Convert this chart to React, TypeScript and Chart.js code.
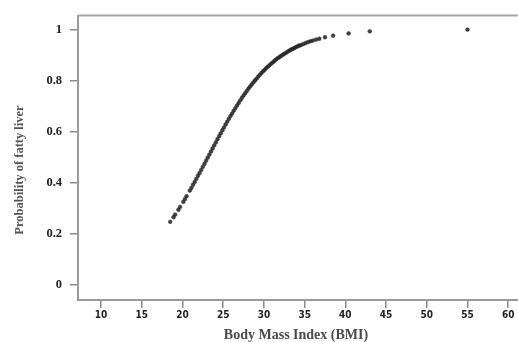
import React, { useEffect, useRef } from "react";
import { Chart, registerables } from "chart.js";

Chart.register(...registerables);

const bmi: number[] = [
  18.5, 18.9, 19.1, 19.5, 19.7, 20.1, 20.3, 20.5, 20.9, 21.1, 21.3, 21.5, 21.7, 21.9,
  22.1, 22.3, 22.5, 22.7, 22.9, 23.1, 23.3, 23.5, 23.7, 23.9, 24.1, 24.3, 24.5, 24.7,
  24.9, 25.1, 25.3, 25.5, 25.7, 25.9, 26.1, 26.3, 26.5, 26.7, 26.9, 27.1, 27.3, 27.5,
  27.7, 27.9, 28.1, 28.3, 28.5, 28.7, 28.9, 29.1, 29.3, 29.5, 29.7, 29.9, 30.1, 30.3,
  30.5, 30.7, 30.9, 31.1, 31.3, 31.5, 31.7, 31.9, 32.1, 32.3, 32.5, 32.7, 32.9, 33.1,
  33.3, 33.5, 33.7, 33.9, 34.1, 34.3, 34.5, 34.8, 35.1, 35.4, 35.7, 36.0, 36.4, 36.8,
  37.5, 38.5, 40.4, 43.0, 55.0,
];

const prob: number[] = [
  0.248, 0.266, 0.276, 0.295, 0.306, 0.326, 0.337, 0.348, 0.37, 0.381, 0.393, 0.404, 0.416, 0.428,
  0.439, 0.451, 0.463, 0.475, 0.487, 0.499, 0.511, 0.523, 0.535, 0.547, 0.559, 0.571, 0.583, 0.594,
  0.606, 0.617, 0.629, 0.64, 0.651, 0.662, 0.672, 0.683, 0.693, 0.703, 0.713, 0.723, 0.733, 0.742,
  0.751, 0.76, 0.769, 0.777, 0.785, 0.793, 0.801, 0.808, 0.816, 0.823, 0.83, 0.837, 0.843, 0.85,
  0.855, 0.861, 0.867, 0.872, 0.878, 0.883, 0.888, 0.892, 0.897, 0.901, 0.905, 0.909, 0.913, 0.917,
  0.921, 0.924, 0.927, 0.931, 0.934, 0.937, 0.939, 0.943, 0.947, 0.951, 0.954, 0.957, 0.961, 0.964,
  0.97, 0.976, 0.985, 0.993, 1.0,
];

const xTicks: number[] = [10, 15, 20, 25, 30, 35, 40, 45, 50, 55, 60];
const yTicks: number[] = [0, 0.2, 0.4, 0.6, 0.8, 1];
const yTickLabels: string[] = ["0", "0.2", "0.4", "0.6", "0.8", "1"];

const xTitle = "Body Mass Index (BMI)";
const yTitle = "Probability of fatty liver";

export default function App() {
  const ref = useRef<HTMLCanvasElement | null>(null);

  useEffect(() => {
    if (!ref.current) return;

    const frame = {
      id: "frameAndTitles",
      afterDraw(chart: any) {
        const { ctx, chartArea } = chart;
        ctx.save();
        ctx.strokeStyle = "#a8a8a8";
        ctx.lineWidth = 2;
        ctx.beginPath();
        ctx.moveTo(chartArea.left, chartArea.top);
        ctx.lineTo(chart.width + 2, chartArea.top);
        ctx.stroke();
        ctx.fillStyle = "#4a4a4a";
        ctx.font = "bold 14px 'Liberation Serif', serif";
        ctx.textAlign = "center";
        ctx.textBaseline = "middle";
        ctx.fillText(xTitle, 296, 335);
        ctx.translate(20, 170);
        ctx.rotate(-Math.PI / 2);
        ctx.fillStyle = "#555555";
        ctx.font = "bold 12.5px 'Liberation Serif', serif";
        ctx.fillText(yTitle, 0, 0);
        ctx.restore();
      },
    };

    const chart = new Chart(ref.current, {
      type: "scatter",
      data: {
        datasets: [
          {
            data: bmi.map((x, i) => ({ x, y: prob[i] })),
            pointRadius: 1.9,
            pointBorderWidth: 0.6,
            pointBackgroundColor: "rgba(30,30,30,0.85)",
            pointBorderColor: "rgba(50,50,50,0.85)",
          },
        ],
      },
      options: {
        animation: false,
        responsive: false,
        maintainAspectRatio: false,
        layout: { autoPadding: false, padding: { top: 14, left: 0, right: 0, bottom: 0 } },
        plugins: { legend: { display: false }, tooltip: { enabled: false } },
        scales: {
          x: {
            type: "linear",
            min: 7.17,
            max: 61.2,
            afterBuildTicks: (scale: any) => {
              scale.ticks = xTicks.map((v) => ({ value: v }));
            },
            afterFit: (scale: any) => {
              scale.height = 42;
              scale.paddingLeft = 0;
              scale.paddingRight = 0;
            },
            grid: {
              drawOnChartArea: false,
              drawTicks: true,
              tickLength: 8,
              color: "#8a8a8a",
              lineWidth: 1.5,
            },
            border: { display: true, color: "#9a9a9a", width: 2 },
            ticks: {
              padding: 1,
              color: "#222",
              maxRotation: 0,
              autoSkip: false,
              font: { family: "'Liberation Sans Narrow', 'DejaVu Sans Condensed', sans-serif", size: 10, weight: "bold" },
              callback: (v: any) => String(v),
            },
          },
          y: {
            type: "linear",
            min: -0.058,
            max: 1.055,
            afterBuildTicks: (scale: any) => {
              scale.ticks = yTicks.map((v) => ({ value: v }));
            },
            afterFit: (scale: any) => {
              scale.width = 78;
            },
            grid: {
              drawOnChartArea: false,
              drawTicks: true,
              tickLength: 8,
              color: "#8a8a8a",
              lineWidth: 1.5,
            },
            border: { display: true, color: "#9a9a9a", width: 2 },
            ticks: {
              padding: 8,
              color: "#222",
              autoSkip: false,
              font: { family: "'Liberation Serif', serif", size: 12.5, weight: "bold" },
              callback: (v: any) => {
                const i = yTicks.indexOf(Number(v));
                return i >= 0 ? yTickLabels[i] : "";
              },
            },
          },
        },
      },
      plugins: [frame],
    });

    return () => chart.destroy();
  }, []);

  return (
    <div style={{ position: "fixed", left: 0, top: 0, width: 518, height: 342, background: "#fff" }}>
      <canvas ref={ref} width={518} height={342} style={{ width: 518, height: 342, display: "block" }} />
    </div>
  );
}
